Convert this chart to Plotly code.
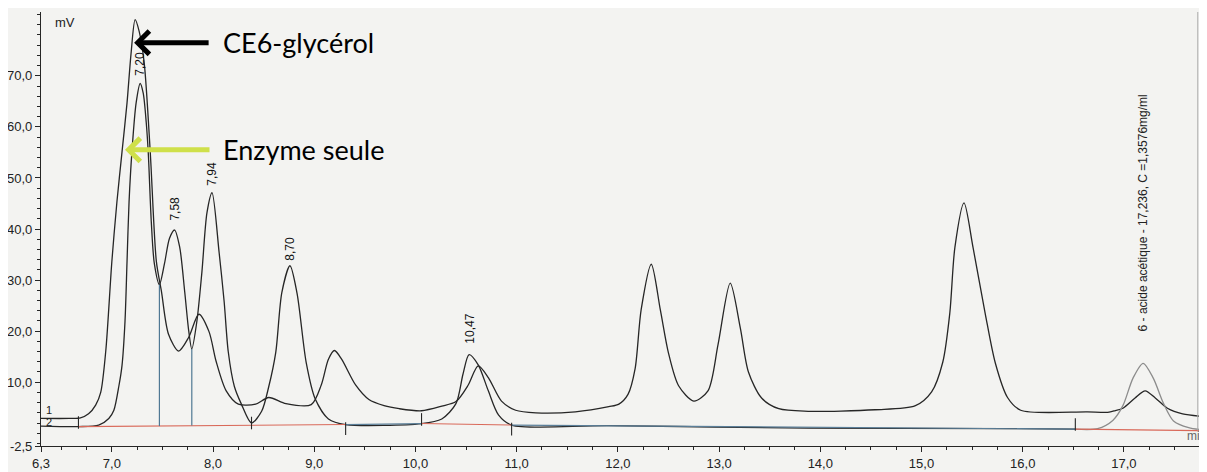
import plotly.graph_objects as go

# trace 1 : CE6-glycérol (higher baseline, tallest peak)
t1 = [6.30, 6.58, 6.69, 6.77, 6.84, 6.89, 6.94, 7.00, 7.05, 7.10, 7.15, 7.19, 7.23, 7.27,
      7.32, 7.38, 7.44, 7.49, 7.56, 7.66, 7.76, 7.86, 7.96, 8.03, 8.13, 8.25, 8.42, 8.55,
      8.72, 8.97, 9.07, 9.14, 9.20, 9.27, 9.41, 9.54, 9.69, 9.84, 10.06, 10.26, 10.40,
      10.52, 10.62, 10.72, 10.85, 10.99, 11.19, 11.58, 11.91, 12.01, 12.10, 12.17, 12.23,
      12.33, 12.42, 12.50, 12.60, 12.75, 12.89, 12.99, 13.11, 13.21, 13.29, 13.42, 13.59,
      13.88, 14.54, 14.94, 15.10, 15.21, 15.28, 15.33, 15.42, 15.51, 15.63, 15.73, 15.85,
      15.98, 16.64, 16.84, 16.91, 16.99, 17.11, 17.21, 17.31, 17.43, 17.58, 17.90]
mv1 = [2.9, 2.9, 3.0, 3.8, 5.5, 8.0, 16.1, 33.6, 45.3, 55.0, 64.7, 74.4, 81.0, 78.7,
       72.5, 54.9, 33.6, 27.8, 19.4, 16.1, 18.8, 23.3, 19.9, 14.1, 8.3, 5.7, 5.7, 7.0,
       5.8, 5.6, 9.5, 14.5, 16.2, 14.5, 9.4, 6.6, 5.4, 4.8, 4.4, 5.3, 6.2,
       9.4, 13.2, 10.9, 6.3, 4.5, 4.0, 4.2, 5.2, 5.7, 7.6, 12.6, 24.2,
       33.1, 24.1, 15.7, 9.3, 6.3, 8.3, 17.4, 29.4, 20.6, 12.0, 6.9, 4.8,
       4.3, 4.6, 5.4, 8.1, 13.9, 23.6, 36.4, 45.1, 36.3, 23.4, 13.7, 7.0,
       4.5, 4.2, 4.1, 4.4, 4.9, 6.9, 8.3, 6.9, 4.9, 3.8, 3.1]

# trace 2 : enzyme seule (integrated run)
t2 = [6.30, 6.67, 6.87, 6.97, 7.02, 7.07, 7.10, 7.13, 7.15, 7.17, 7.20, 7.24, 7.28, 7.31,
      7.34, 7.36, 7.39, 7.42, 7.47, 7.52, 7.57, 7.62, 7.67, 7.72, 7.76, 7.79, 7.84, 7.89,
      7.94, 7.99, 8.06, 8.11, 8.15, 8.21, 8.28, 8.38, 8.48, 8.55, 8.62, 8.68, 8.76, 8.83,
      8.92, 9.01, 9.14, 9.31, 10.06, 10.26, 10.40, 10.47, 10.53, 10.62, 10.72, 10.82,
      10.95, 11.91, 13.88, 15.85, 16.52, 16.74, 16.89, 16.99, 17.09, 17.19, 17.29, 17.39,
      17.49, 17.64, 17.90]
mv2 = [1.4, 1.3, 1.6, 2.9, 4.5, 9.3, 13.2, 21.9, 33.6, 45.3, 55.6, 64.7, 68.5, 66.6,
       60.8, 54.9, 41.3, 33.2, 29.1, 33.2, 38.2, 39.8, 36.5, 27.7, 20.0, 16.5, 21.9, 31.6,
       43.2, 47.1, 35.4, 25.7, 16.0, 9.2, 5.7, 2.0, 4.3, 9.1, 15.9, 27.6, 32.8, 27.4,
       13.9, 6.7, 2.8, 1.7, 1.9, 2.8, 5.8, 11.6, 15.4, 13.4, 8.3, 3.6,
       1.6, 1.5, 1.0, 0.9, 0.8, 0.9, 2.5, 5.4, 10.8, 13.7, 10.8, 5.9,
       2.4, 1.1, 0.4]

# integration : baselines, drop lines, start/end marks
red_t = [6.67, 9.31, None, 10.06, 10.95, None, 16.52, 17.75]
red_mv = [1.3, 1.7, None, 1.9, 1.6, None, 0.8, 0.5]
blue_t = [9.31, 10.06, None, 10.95, 16.52]
blue_mv = [1.7, 1.9, None, 1.6, 0.8]
drop_t = [7.47, 7.79]
drop_top = [29.1, 16.5]
drop_base = [1.4, 1.5]
mark_t = [6.67, 8.38, 9.31, 10.06, 10.95, 16.52]
mark_mv = [2.1, 2.0, 0.9, 2.7, 0.8, 1.7]

# peak labels (trace 2)
peak_labels = ["7,20", "7,58", "7,94", "8,70", "10,47"]
peak_t = [7.28, 7.62, 7.99, 8.76, 10.53]
peak_mv = [68.5, 39.8, 47.1, 32.8, 15.4]
acid_label = "6 - acide acétique - 17,236, C =1,3576mg/ml"

x_ticks = [6.3, 7, 8, 9, 10, 11, 12, 13, 14, 15, 16, 17]
x_text = ["6,3", "7,0", "8,0", "9,0", "10,0", "11,0", "12,0", "13,0", "14,0", "15,0", "16,0", "17,0"]
y_ticks = [-2.5, 10, 20, 30, 40, 50, 60, 70]
y_text = ["-2,5", "10,0", "20,0", "30,0", "40,0", "50,0", "60,0", "70,0"]

ink = "#262626"
font_ax = "Liberation Sans"
fig = go.Figure()

fig.add_trace(go.Scatter(x=t1, y=mv1, mode="lines", line=dict(color=ink, width=1.3, shape="spline", smoothing=0.8)))
# trace 2, main part in black, acetic acid peak printed lighter
cut = t2.index(16.52)
fig.add_trace(go.Scatter(x=t2[:cut + 1], y=mv2[:cut + 1], mode="lines",
                         line=dict(color=ink, width=1.3, shape="spline", smoothing=0.8)))
fig.add_trace(go.Scatter(x=t2[cut:], y=mv2[cut:], mode="lines",
                         line=dict(color="#8c8c8c", width=1.3, shape="spline", smoothing=0.8)))

fig.add_trace(go.Scatter(x=blue_t, y=blue_mv, mode="lines", line=dict(color="#5b7f99", width=1.2)))
fig.add_trace(go.Scatter(x=red_t, y=red_mv, mode="lines", line=dict(color="#d9695a", width=1.1)))

for t, top, base in zip(drop_t, drop_top, drop_base):
    fig.add_trace(go.Scatter(x=[t, t], y=[base, top], mode="lines", line=dict(color="#4f7894", width=1.2)))

fig.add_trace(go.Scatter(x=mark_t, y=mark_mv, mode="markers",
                         marker=dict(symbol="line-ns", size=9, line=dict(color=ink, width=1.1))))

shifts = [20, 21, 19, 17, 26]
for lab, t, v, s in zip(peak_labels, peak_t, peak_mv, shifts):
    fig.add_annotation(x=t, y=v, text=lab, showarrow=False, textangle=-90, yshift=s,
                       font=dict(family=font_ax, size=12, color="#111"))
fig.add_annotation(x=17.19, y=13.7, text=acid_label, showarrow=False, textangle=-90, yshift=150,
                   font=dict(family=font_ax, size=12, color="#222"))

# overlay arrows and captions
fig.add_annotation(x=7.22, y=76.5, ax=76, ay=0, text="", showarrow=True, arrowhead=4,
                   arrowsize=0.9, arrowwidth=5, arrowcolor="#000")
fig.add_annotation(x=8.08, y=76.5, text="CE6-glycérol", showarrow=False, xanchor="left",
                   font=dict(family="Lato", size=27, color="#000"))
fig.add_annotation(x=7.13, y=55.5, ax=86, ay=0, text="", showarrow=True, arrowhead=4,
                   arrowsize=0.9, arrowwidth=5, arrowcolor="#cfe04a")
fig.add_annotation(x=8.08, y=55.5, text="Enzyme seule", showarrow=False, xanchor="left",
                   font=dict(family="Lato", size=27, color="#000"))

# axis decorations
fig.add_annotation(xref="paper", yref="paper", x=0.01, y=0.975, text="mV", showarrow=False,
                   xanchor="left", yanchor="middle", font=dict(family=font_ax, size=13, color="#222"))
fig.add_annotation(x=17.60, y=-2.4, text="min", showarrow=False, xanchor="left", yanchor="bottom",
                   font=dict(family=font_ax, size=12, color="#666"))
fig.add_annotation(x=6.33, y=4.5, text="1", showarrow=False, xanchor="left",
                   font=dict(family=font_ax, size=11, color="#222"))
fig.add_annotation(x=6.33, y=2.2, text="2", showarrow=False, xanchor="left",
                   font=dict(family=font_ax, size=11, color="#222"))

fig.add_shape(type="line", x0=17.73, x1=17.73, y0=0.5, y1=82.5, line=dict(color="#aaaaaa", width=1))
fig.add_shape(type="line", xref="paper", yref="paper", x0=0, x1=1, y0=-0.072, y1=-0.072,
              line=dict(color="#a5a5a5", width=1))

fig.update_layout(
    width=1207, height=472,
    margin=dict(l=33, r=0, t=4, b=34),
    paper_bgcolor="#f3f3f1", plot_bgcolor="#f3f3f1",
    showlegend=False,
    xaxis=dict(range=[6.3, 17.9], tickmode="array", tickvals=x_ticks, ticktext=x_text,
               automargin=False,
               showgrid=False, zeroline=False, showline=True, linecolor=ink, linewidth=1.2,
               ticks="outside", ticklen=5, tickcolor=ink,
               minor=dict(tickmode="linear", tick0=0, dtick=0.25, ticks="outside", ticklen=3, tickcolor=ink),
               tickfont=dict(family=font_ax, size=13, color="#222")),
    yaxis=dict(range=[-2.5, 82.5], tickmode="array", tickvals=y_ticks, ticktext=y_text,
               automargin=False,
               showgrid=False, zeroline=False, showline=True, linecolor=ink, linewidth=1.2,
               ticks="outside", ticklen=5, tickcolor=ink,
               minor=dict(tickmode="linear", tick0=0, dtick=2, ticks="outside", ticklen=3, tickcolor=ink),
               tickfont=dict(family=font_ax, size=13, color="#222")),
)

fig.write_html("out.html")
